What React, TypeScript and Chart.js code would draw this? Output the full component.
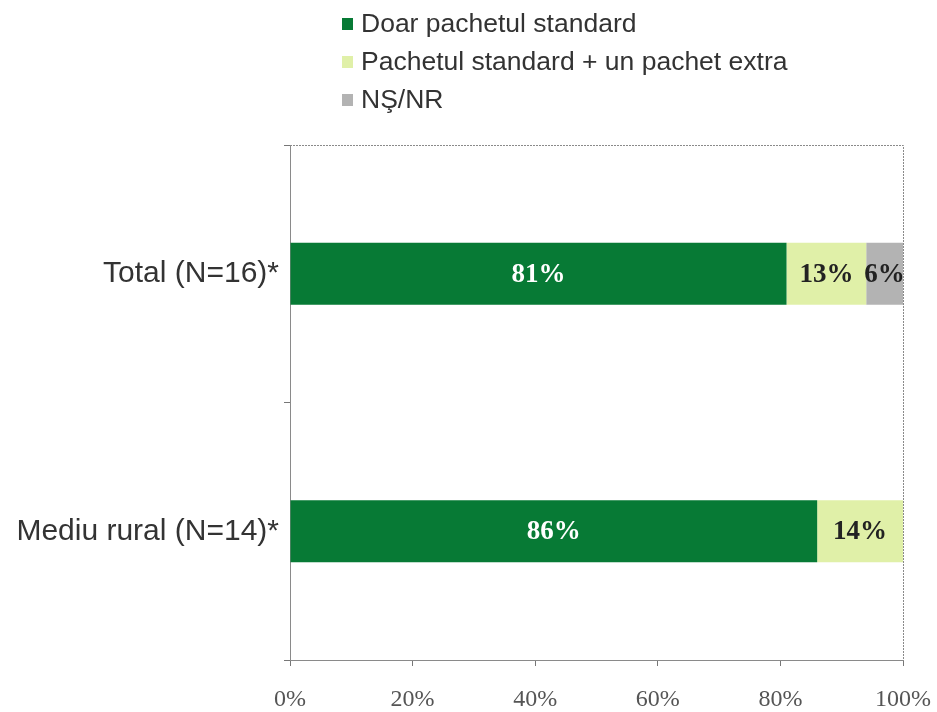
import React, { useEffect, useRef } from "react";
import { Chart, registerables } from "chart.js";

Chart.register(...registerables);

const categories = ["Total (N=16)*", "Mediu rural (N=14)*"];
const seriesNames = ["Doar pachetul standard", "Pachetul standard + un pachet extra", "NŞ/NR"];
const onlyStandard = [81, 86];
const standardPlusExtra = [13, 14];
const dontKnow = [6, 0];
const xTicks = [0, 20, 40, 60, 80, 100];
const colors = ["#077A35", "#E0F0A8", "#B3B3B3"];
const labelColors = ["#FFFFFF", "#222222", "#222222"];

const legendPlugin = {
  id: "columnLegend",
  afterDraw(chart: any) {
    const ctx = chart.ctx;
    ctx.save();
    ctx.font = "26.5px 'Liberation Sans', Arial, sans-serif";
    ctx.textBaseline = "middle";
    ctx.textAlign = "left";
    chart.data.datasets.forEach((ds: any, i: number) => {
      const cy = 24 + i * 38;
      ctx.fillStyle = ds.backgroundColor;
      ctx.fillRect(342, cy - 6, 11, 12);
      ctx.fillStyle = "#333333";
      ctx.fillText(ds.label, 361, cy + 1);
    });
    ctx.restore();
  },
};

const frameAndLabels = {
  id: "frameAndLabels",
  afterDatasetsDraw(chart: any) {
    const ctx = chart.ctx;
    const a = chart.chartArea;
    ctx.save();
    ctx.strokeStyle = "#8a8a8a";
    ctx.lineWidth = 1;
    ctx.setLineDash([2, 1]);
    ctx.beginPath();
    ctx.moveTo(a.left, a.top + 0.5);
    ctx.lineTo(a.right + 0.5, a.top + 0.5);
    ctx.lineTo(a.right + 0.5, a.bottom);
    ctx.stroke();
    ctx.setLineDash([]);
    ctx.font = "bold 27px 'Liberation Serif', 'DejaVu Serif', serif";
    ctx.textAlign = "center";
    ctx.textBaseline = "middle";
    chart.data.datasets.forEach((ds: any, di: number) => {
      const meta = chart.getDatasetMeta(di);
      meta.data.forEach((bar: any, j: number) => {
        const v = ds.data[j];
        if (!v) return;
        const p = bar.getProps(["x", "y", "base"], true);
        ctx.fillStyle = labelColors[di];
        ctx.fillText(v + "%", (p.x + p.base) / 2, p.y + 1);
      });
    });
    ctx.restore();
  },
};

export default function App() {
  const ref = useRef<HTMLCanvasElement>(null);
  useEffect(() => {
    if (!ref.current) return;
    const values = [onlyStandard, standardPlusExtra, dontKnow];
    const chart = new Chart(ref.current, {
      type: "bar",
      data: {
        labels: categories,
        datasets: seriesNames.map((name, i) => ({
          label: name,
          data: values[i],
          backgroundColor: colors[i],
          borderWidth: 0,
          barPercentage: 0.24,
          categoryPercentage: 1,
        })),
      },
      options: {
        indexAxis: "y",
        animation: false,
        responsive: false,
        maintainAspectRatio: false,
        layout: { padding: { top: 145, right: 34, left: 0, bottom: 0 } },
        plugins: {
          legend: { display: false },
          tooltip: { enabled: false },
        },
        scales: {
          x: {
            stacked: true,
            min: 0,
            max: 100,
            afterBuildTicks: (s: any) => {
              s.ticks = xTicks.map((v) => ({ value: v }));
            },
            afterFit: (s: any) => {
              s.height = 52;
              s.paddingLeft = 0;
              s.paddingRight = 0;
            },
            grid: {
              drawOnChartArea: false,
              drawTicks: true,
              tickLength: 6,
              color: "#777777",
            },
            border: { display: true, color: "#8a8a8a", dash: [2, 1] },
            ticks: {
              padding: 19,
              color: "#555555",
              font: { family: "'Liberation Serif', serif", size: 24 },
              callback: (v: any) => v + "%",
            },
          },
          y: {
            stacked: true,
            afterFit: (s: any) => {
              s.width = 290;
              s.paddingTop = 0;
              s.paddingBottom = 0;
            },
            grid: {
              offset: true,
              drawOnChartArea: false,
              drawTicks: true,
              tickLength: 6,
              color: "#777777",
            },
            border: { display: true, color: "#8a8a8a", dash: [2, 1] },
            ticks: {
              padding: 5,
              color: "#333333",
              font: { family: "'Liberation Sans', Arial, sans-serif", size: 30 },
            },
          },
        },
      },
      plugins: [legendPlugin, frameAndLabels],
    } as any);
    return () => chart.destroy();
  }, []);
  return (
    <div style={{ position: "fixed", left: 0, top: 0, width: 937, height: 712, background: "#fff" }}>
      <canvas ref={ref} width={937} height={712} style={{ width: 937, height: 712 }} />
    </div>
  );
}
